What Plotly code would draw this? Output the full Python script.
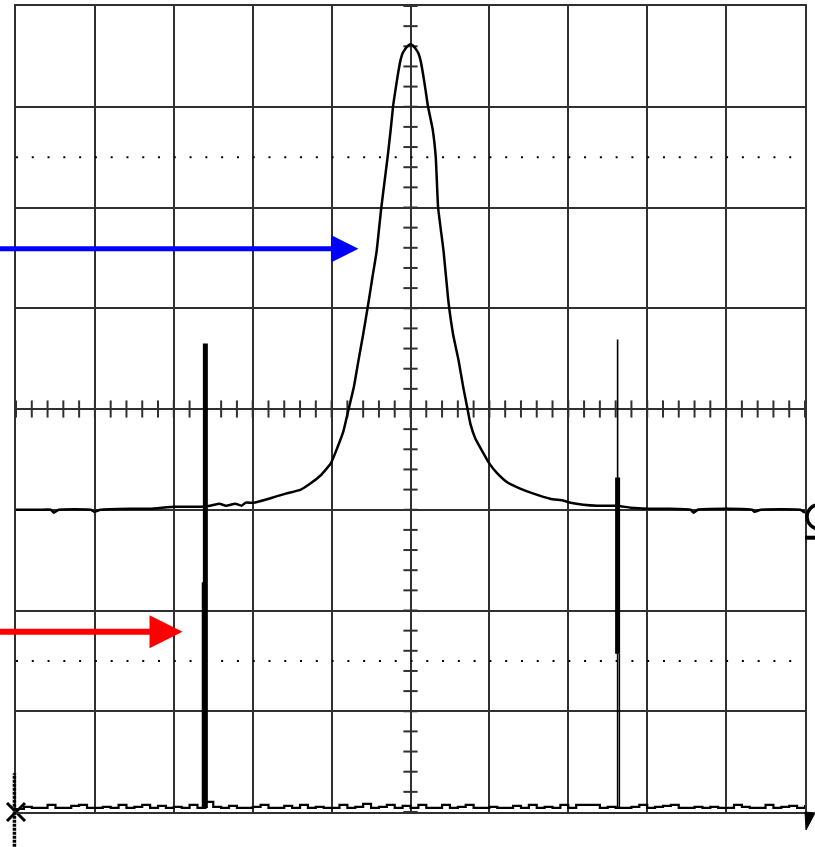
import plotly.graph_objects as go
import numpy as np

# ---------------- data (divisions: x in -5..5, y in 0..8) ----------------
ch1_x = [-5.00, -4.69, -4.56, -4.52, -4.46, -4.05, -4.01, -3.93, -3.55, -3.30,
         -2.99, -2.66, -2.54, -2.42, -2.34, -2.22, -2.14, -2.09, -1.99, -1.84,
         -1.71, -1.58, -1.39, -1.27, -1.14, -1.01, -0.93, -0.85, -0.79, -0.72,
         -0.66, -0.60, -0.53, -0.48, -0.43, -0.37, -0.29, -0.25, -0.22, -0.19,
         -0.16, -0.13, -0.10, -0.06, -0.025, 0.00, 0.025, 0.06, 0.10, 0.13,
         0.16, 0.19, 0.22, 0.28, 0.32, 0.35,
         0.42, 0.48, 0.54, 0.61, 0.67, 0.72, 0.76, 0.82, 0.91, 0.99,
         1.10, 1.23, 1.39, 1.56, 1.77, 1.94, 2.03, 2.19, 2.37, 2.62,
         2.79, 3.00, 3.26, 3.55, 3.59, 3.64, 4.02, 4.33, 4.36, 4.44,
         4.94, 5.00]
ch1_y = [3.00, 3.00, 3.00, 2.97, 3.00, 3.00, 2.98, 3.00, 3.01, 3.01,
         3.03, 3.03, 3.04, 3.06, 3.04, 3.06, 3.04, 3.07, 3.07, 3.10,
         3.13, 3.16, 3.20, 3.26, 3.34, 3.46, 3.61, 3.78, 3.98, 4.21,
         4.48, 4.74, 5.07, 5.32, 5.56, 6.00, 6.50, 6.78, 7.01, 7.17,
         7.32, 7.45, 7.53, 7.58, 7.61, 7.62, 7.61, 7.58, 7.53, 7.45,
         7.32, 7.17, 7.01, 6.78, 6.50, 6.00,
         5.56, 5.07, 4.74, 4.48, 4.21, 4.01, 3.85, 3.71, 3.58, 3.47,
         3.36, 3.27, 3.21, 3.16, 3.11, 3.09, 3.07, 3.05, 3.04, 3.04,
         3.02, 3.01, 3.01, 3.00, 2.97, 3.00, 3.01, 3.00, 2.98, 3.00,
         3.00, 2.97]

ch2_x = [round(v, 1) for v in np.arange(-5.0, 5.05, 0.1)]
ch2_y = [0.03, 0.05, 0.04, 0.04, 0.07, 0.04, 0.04, 0.06, 0.07, 0.04,
         0.04, 0.05, 0.04, 0.07, 0.04, 0.05, 0.07, 0.04, 0.06, 0.04,
         0.05, 0.04, 0.07, 0.04, 0.10, 0.05, 0.04, 0.06, 0.04, 0.04,
         0.05, 0.07, 0.04, 0.04, 0.06, 0.04, 0.07, 0.04, 0.05, 0.04,
         0.04, 0.07, 0.04, 0.05, 0.08, 0.04, 0.05, 0.07, 0.04, 0.06,
         0.04, 0.07, 0.04, 0.04, 0.07, 0.04, 0.05, 0.07, 0.04, 0.04,
         0.05, 0.04, 0.04, 0.06, 0.04, 0.07, 0.04, 0.05, 0.04, 0.07,
         0.04, 0.07, 0.07, 0.07, 0.04, 0.05, 0.04, 0.04, 0.05, 0.07,
         0.04, 0.05, 0.06, 0.07, 0.04, 0.04, 0.05, 0.04, 0.05, 0.04,
         0.04, 0.07, 0.05, 0.04, 0.04, 0.07, 0.04, 0.05, 0.06, 0.04,
         0.07]

# spikes on channel 2 (x position, low end, high end)
spike_x = [-2.63, -2.60, 2.625, 2.625, 2.648]
spike_lo = [0.04, 0.04, 0.04, 1.57, 0.04]
spike_hi = [2.28, 4.65, 4.69, 3.32, 1.57]
spike_w = [2.5, 5, 1.6, 5, 1.4]

# arrows: (tip x, tip y, tail x)
arrow_tip_x = [-0.66, -2.89]
arrow_tip_y = [5.59, 1.79]
arrow_tail_x = [-5.3, -5.3]
arrow_colors = ["#0000FF", "#FF0000"]

GRID = "#303030"

fig = go.Figure()

fig.add_trace(go.Scatter(x=ch1_x, y=ch1_y, mode="lines", line_shape="spline",
                         line=dict(color="black", width=2.5, smoothing=0.4),
                         showlegend=False))
fig.add_trace(go.Scatter(x=ch2_x, y=ch2_y, mode="lines", line_shape="hv",
                         line=dict(color="black", width=2.2), showlegend=False))
for sx, lo, hi, w in zip(spike_x, spike_lo, spike_hi, spike_w):
    fig.add_trace(go.Scatter(x=[sx, sx], y=[lo, hi], mode="lines",
                             line=dict(color="black", width=w), showlegend=False))

# ground marker bottom-left
fig.add_trace(go.Scatter(x=[-5.0], y=[0.0], mode="markers", cliponaxis=False,
                         marker=dict(symbol="x-thin", size=18,
                                     line=dict(color="black", width=3)),
                         showlegend=False))

shapes = []
# dotted half-division lines
for yv in [1.5, 6.5]:
    shapes.append(dict(type="line", xref="x", yref="y", x0=-5, x1=5, y0=yv, y1=yv,
                       line=dict(color="black", width=2, dash="2px,13.78px"),
                       layer="between"))
# minor ticks on centre axes
for i in range(-25, 26):
    xv = i * 0.2
    shapes.append(dict(type="line", xref="x", yref="y", x0=xv, x1=xv,
                       y0=4 - 0.085, y1=4 + 0.085,
                       line=dict(color=GRID, width=2), layer="between"))
for j in range(0, 41):
    yv = j * 0.2
    shapes.append(dict(type="line", xref="x", yref="y", x0=-0.09, x1=0.09,
                       y0=yv, y1=yv, line=dict(color=GRID, width=2), layer="between"))
# ground marker stem (paper coords)
shapes.append(dict(type="line", xref="paper", yref="paper",
                   x0=-0.002, x1=-0.002, y0=-0.043, y1=0.048,
                   line=dict(color="black", width=3.5, dash="3px,1px")))
# trigger triangle bottom-right
shapes.append(dict(type="path", xref="paper", yref="paper",
                   path="M 1.0,0 L 1.0127,-0.0012 L 1.0013,-0.0223 Z",
                   fillcolor="black", line=dict(color="black", width=1)))
# channel marker on right edge
shapes.append(dict(type="circle", xref="paper", yref="paper",
                   x0=1.0025, x1=1.033, y0=0.3515, y1=0.3812,
                   line=dict(color="black", width=3.5)))
shapes.append(dict(type="line", xref="paper", yref="paper",
                   x0=1.0, x1=1.013, y0=0.3403, y1=0.3403,
                   line=dict(color="black", width=4)))

annotations = []
for tx, ty, ax, col, w, s in zip(arrow_tip_x, arrow_tip_y, arrow_tail_x, arrow_colors,
                                 [5, 6], [1.1, 1.1]):
    annotations.append(dict(x=tx, y=ty, xref="x", yref="y", ax=ax, ay=ty,
                            axref="x", ayref="y", text="", showarrow=True,
                            arrowhead=2, arrowwidth=w, arrowsize=s,
                            arrowcolor=col, standoff=0))

fig.update_layout(
    width=815, height=847, autosize=False,
    margin=dict(l=16, r=10, t=4, b=35),
    paper_bgcolor="white", plot_bgcolor="white",
    shapes=shapes, annotations=annotations,
    xaxis=dict(range=[-5, 5], dtick=1, tick0=0, showticklabels=False, ticks="",
               showgrid=True, gridcolor=GRID, gridwidth=2, zeroline=False,
               showline=True, mirror=True, linecolor=GRID, linewidth=2),
    yaxis=dict(range=[0, 8], dtick=1, tick0=0, showticklabels=False, ticks="",
               showgrid=True, gridcolor=GRID, gridwidth=2, zeroline=False,
               showline=True, mirror=True, linecolor=GRID, linewidth=2),
)

fig.write_html("out.html", config={"displayModeBar": False},
               post_script="document.body.style.margin='0';"
                           "document.body.style.overflow='hidden';")
